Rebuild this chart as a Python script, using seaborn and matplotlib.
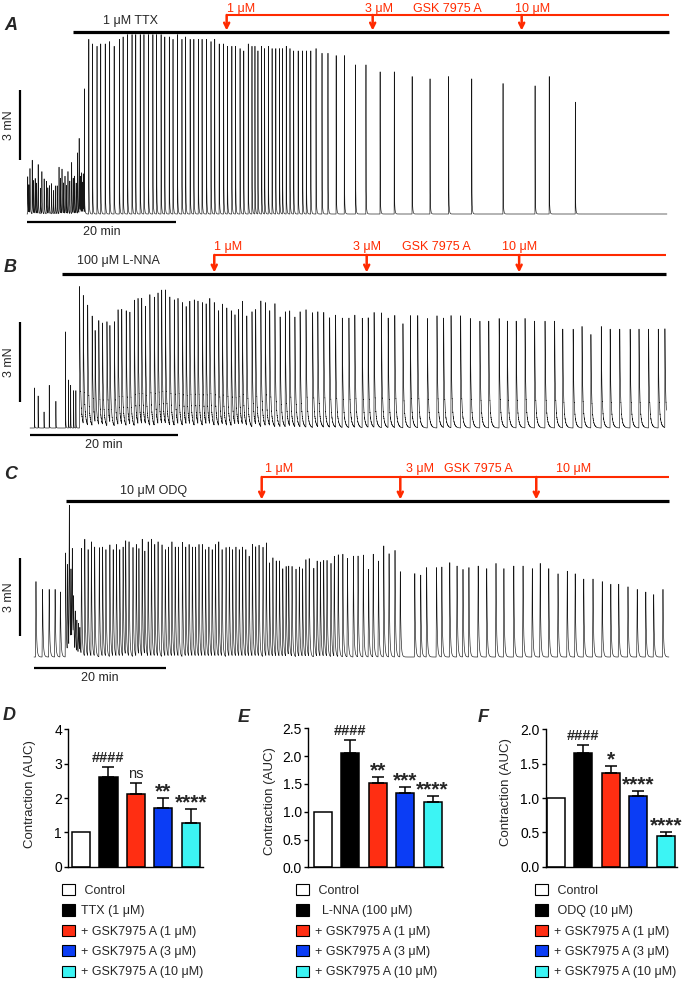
import numpy as np
import matplotlib
matplotlib.use("Agg")
import matplotlib.pyplot as plt
from matplotlib.patches import Patch
import seaborn as sns

# ---------------- recordings (time in min, contraction peak in mN) ----------------
# A: 1 uM TTX
a_pre_times = [0.1, 0.25, 0.4, 0.7, 0.9, 1.1, 1.3, 1.5, 1.8, 2.0, 2.3, 2.6, 2.8, 3.0, 3.3, 3.55, 3.8, 4.05,
               4.3, 4.5, 4.7, 4.9, 5.1, 5.3, 5.5, 5.75, 6.0, 6.2, 6.4, 6.6, 6.8, 7.0, 7.15, 7.3, 7.45, 7.55]
a_pre_peaks = [1.6, 1.2, 1.9, 2.3, 1.4, 1.5, 1.3, 2.1, 1.1, 1.8, 1.5, 1.4, 1.1, 1.2, 1.3, 1.0, 1.2, 1.2,
               2.0, 1.5, 1.9, 1.3, 1.6, 1.2, 1.8, 1.4, 2.2, 1.5, 1.6, 1.3, 2.6, 3.2, 1.5, 1.7, 1.3, 1.6]
a_times = [7.7, 8.3, 8.8, 9.4, 9.9, 10.5, 11.1, 11.7, 12.4, 12.9, 13.5, 14.1, 14.6, 15.2, 15.7, 16.3, 16.9,
           17.4, 18.0, 18.5, 19.1, 19.6, 20.2, 20.8, 21.3, 21.9, 22.4, 23.0, 23.5, 24.1, 24.7, 25.2, 25.8,
           26.4, 26.9, 27.5, 28.0, 28.6, 29.1, 29.7, 30.2, 30.6, 31.0, 31.5, 31.9, 32.4, 32.9, 33.4, 33.9,
           34.3, 34.8, 35.3, 35.8, 36.4, 37.0, 37.5, 38.1, 38.8, 39.6, 40.4, 41.5, 42.6, 44.1, 45.5, 47.4,
           49.3, 51.7, 54.1, 56.6, 59.7, 63.9, 68.2, 70.1, 73.6]
a_peaks = [5.3, 7.5, 7.3, 7.2, 7.3, 7.3, 7.4, 7.2, 7.5, 7.6, 7.7, 7.7, 7.7, 7.7, 7.7, 7.7, 7.7,
           7.7, 7.7, 7.6, 7.6, 7.5, 7.7, 7.5, 7.6, 7.5, 7.5, 7.5, 7.5, 7.5, 7.4, 7.5, 7.3,
           7.3, 7.2, 7.2, 7.2, 7.1, 7.0, 7.3, 7.2, 7.2, 7.0, 7.2, 7.1, 7.2, 7.1, 7.1, 7.1,
           7.1, 7.2, 7.1, 7.0, 7.0, 7.0, 7.0, 7.0, 7.1, 6.9, 6.9, 6.8, 6.8, 6.4, 6.4, 6.1,
           6.1, 5.9, 5.8, 5.9, 5.8, 5.6, 5.5, 5.9, 4.8]
a_drug = (6.2, 86.2)
a_gsk_times = [26.8, 46.4, 66.4]
a_end = 85.9

# B: 100 uM L-NNA
b_pre_times = [0.6, 1.1, 1.9, 2.6, 3.5, 4.8, 5.2, 5.5, 5.9, 6.2]
b_pre_peaks = [1.5, 1.2, 0.6, 1.6, 1.0, 3.6, 1.8, 1.6, 1.4, 1.4]
b_times = [6.7, 7.2, 7.8, 8.4, 8.8, 9.3, 9.8, 10.4, 10.8, 11.4, 11.9, 12.4, 13.0, 13.5, 14.1, 14.6, 15.1,
           15.6, 16.2, 16.8, 17.3, 17.8, 18.3, 18.9, 19.5, 20.0, 20.6, 21.1, 21.6, 22.2, 22.7, 23.3, 23.8,
           24.3, 24.9, 25.5, 26.0, 26.6, 27.2, 27.7, 28.2, 28.7, 29.3, 30.0, 30.5, 31.2, 31.8, 32.4, 33.1,
           33.8, 34.5, 35.1, 35.8, 36.5, 37.3, 38.2, 38.9, 39.7, 40.5, 41.3, 42.2, 43.1, 43.9, 44.9, 45.7,
           46.5, 47.5, 48.4, 49.3, 50.4, 51.4, 52.4, 53.7, 55.0, 55.9, 56.9, 58.2, 59.5, 60.8, 62.0, 63.4,
           64.5, 65.7, 66.9, 68.2, 69.6, 70.9, 72.0, 73.4, 74.6, 75.8, 77.2, 78.4, 79.7, 81.1, 82.3, 83.6,
           84.9, 85.8]
b_peaks = [5.3, 4.8, 4.5, 4.1, 3.4, 3.9, 3.8, 3.9, 3.6, 3.9, 4.3, 4.3, 4.3, 4.2, 4.7, 4.7, 4.7,
           4.4, 4.9, 4.8, 4.9, 5.0, 5.0, 4.8, 4.7, 4.7, 4.6, 4.4, 4.6, 4.7, 4.6, 4.6, 4.5,
           4.7, 4.6, 4.3, 4.5, 4.4, 4.3, 4.1, 4.3, 4.6, 4.1, 4.3, 4.3, 4.7, 4.6, 4.3, 4.6,
           4.1, 4.3, 4.3, 4.1, 4.3, 4.4, 4.3, 4.3, 4.3, 4.1, 4.2, 4.1, 4.1, 4.2, 4.1, 4.1,
           4.3, 4.3, 4.1, 4.2, 3.9, 4.2, 4.2, 4.1, 4.2, 4.1, 4.2, 4.2, 4.1, 4.0, 4.0, 4.1,
           4.0, 4.0, 4.1, 4.0, 4.0, 4.0, 3.7, 3.7, 3.8, 3.5, 3.8, 3.7, 3.7, 3.7, 3.7, 3.7,
           3.7, 3.7]
b_drug = (4.3, 85.9)
b_gsk_times = [24.9, 45.5, 66.1]
b_end = 86.0

# C: 10 uM ODQ
c_pre_times = [0.3, 1.3, 2.3, 3.2, 4.0, 4.8, 5.1, 5.35, 5.6, 5.8, 6.0, 6.25, 6.5, 6.75, 6.95]
c_pre_peaks = [2.9, 2.6, 2.6, 2.6, 2.5, 4.0, 3.4, 5.6, 3.0, 3.8, 1.9, 1.6, 1.3, 1.2, 1.0]
c_times = [7.2, 7.7, 8.2, 8.7, 9.2, 9.9, 10.4, 10.9, 11.5, 12.0, 12.5, 13.0, 13.5, 13.9, 14.4, 15.0, 15.5,
           15.9, 16.4, 16.8, 17.3, 17.8, 18.3, 18.8, 19.4, 19.9, 20.4, 20.9, 21.4, 21.9, 22.5, 23.0, 23.5,
           24.0, 24.5, 25.0, 25.5, 26.0, 26.5, 27.0, 27.5, 28.0, 28.5, 29.1, 29.6, 30.1, 30.6, 31.1, 31.6,
           32.1, 32.6, 33.1, 33.6, 34.1, 34.7, 35.2, 35.7, 36.2, 36.7, 37.2, 37.7, 38.2, 38.6, 39.1, 39.7,
           40.2, 40.7, 41.2, 41.7, 42.4, 42.9, 43.4, 43.9, 44.4, 45.0, 45.5, 46.1, 46.8, 47.5, 48.4, 49.1,
           49.9, 50.7, 51.4, 52.2, 53.0, 53.8, 54.7, 55.5, 57.7, 58.6, 59.5, 61.0, 61.8, 63.0, 64.1, 65.0,
           65.9, 67.3, 68.6, 70.0, 71.2, 72.7, 74.1, 75.5, 76.7, 78.0, 79.4, 80.8, 82.0, 83.3, 84.7, 86.1,
           87.4, 88.6, 90.0, 91.4, 92.7, 93.9, 95.3]
c_peaks = [4.1, 4.5, 4.1, 4.4, 4.2, 4.2, 4.2, 4.1, 4.3, 4.1, 4.3, 4.1, 4.2, 4.4, 4.4, 4.2, 4.3,
           4.1, 4.5, 4.0, 4.4, 4.5, 4.3, 4.4, 4.3, 4.1, 4.2, 4.4, 4.2, 4.2, 4.4, 4.2, 4.3,
           4.2, 4.2, 4.3, 4.3, 4.1, 4.2, 4.1, 4.3, 4.4, 4.1, 4.2, 4.2, 4.1, 4.2, 4.1, 4.2,
           4.1, 3.85, 4.31, 4.21, 4.27, 4.21, 4.36, 3.59, 3.79, 3.67, 3.67, 3.37, 3.46, 3.44, 3.46, 3.37,
           3.44, 3.37, 3.72, 3.76, 3.41, 3.67, 3.63, 3.69, 3.69, 3.59, 3.85, 3.92, 3.95, 3.79, 3.88, 3.88,
           3.92, 3.37, 3.95, 3.69, 4.27, 3.97, 4.1, 3.28, 3.21, 3.15, 3.44, 3.44, 3.46, 3.63, 3.5, 3.37,
           3.44, 3.5, 3.4, 3.6, 3.4, 3.5, 3.5, 3.4, 3.6, 3.4, 3.2, 3.3, 3.2, 3.0, 3.0, 2.9,
           2.8, 2.8, 2.7, 2.6, 2.5, 2.4, 2.6]
c_drug = (4.85, 96.2)
c_gsk_times = [34.5, 55.5, 76.1]
c_end = 96.2

# ---------------- summary bars (AUC, mean and SEM) ----------------
d_labels = [" Control", "TTX (1 μM)", "+ GSK7975 A (1 μM)", "+ GSK7975 A (3 μM)", "+ GSK7975 A (10 μM)"]
d_mean = [1.0, 2.62, 2.12, 1.70, 1.28]
d_sem = [0.0, 0.29, 0.31, 0.29, 0.39]
d_sig = ["", "####", "ns", "**", "****"]

e_labels = [" Control", "  L-NNA (100 μM)", "+ GSK7975 A (1 μM)", "+ GSK7975 A (3 μM)", "+ GSK7975 A (10 μM)"]
e_mean = [1.0, 2.06, 1.51, 1.34, 1.18]
e_sem = [0.0, 0.23, 0.12, 0.11, 0.10]
e_sig = ["", "####", "**", "***", "****"]

f_labels = [" Control", " ODQ (10 μM)", "+ GSK7975 A (1 μM)", "+ GSK7975 A (3 μM)", "+ GSK7975 A (10 μM)"]
f_mean = [1.0, 1.66, 1.36, 1.03, 0.45]
f_sem = [0.0, 0.11, 0.10, 0.07, 0.06]
f_sig = ["", "####", "*", "****", "****"]

bar_colors = ["white", "black", "#ff2e12", "#0b3df5", "#3cf4f4"]
RED = "#ff2a00"

sns.set_style("ticks")
plt.rcParams["font.family"] = ["Liberation Sans", "DejaVu Sans"]

W, H = 685, 981
fig = plt.figure(figsize=(W / 100, H / 100), dpi=100)

# pixel layout of each trace panel
layouts = {
    "A": dict(x0=27, ppm=7.45, base=214, ppn=23.3, band=(0, 240), black=32, red=15, red_y=9, drug_y=21,
              drug_x=103, red_x=[227, 365, 413, 515], scale_bot=160, time_y=222, letter_y=25),
    "B": dict(x0=30, ppm=7.4, base=428, ppn=26.7, band=(240, 455), black=274, red=255, red_y=247, drug_y=261,
              drug_x=77, red_x=[214, 353, 402, 502], scale_bot=402, time_y=435, letter_y=267),
    "C": dict(x0=34, ppm=6.6, base=657, ppn=26.0, band=(455, 690), black=501, red=477, red_y=469, drug_y=491,
              drug_x=120, red_x=[265, 406, 444, 556], scale_bot=636, time_y=668, letter_y=474),
}

# spike shapes: rise, fast tau, slow fraction, slow tau, ripple
shape_a = (0.02, 0.012, 0.17, 0.06, 0.0)
shape_a_pre = (0.03, 0.025, 0.3, 0.07, 0.0)
shape_b = (0.02, 0.07, 0.4, 0.2, 0.025)
shape_b_pre = (0.01, 0.01, 0.1, 0.05, 0.0)
shape_c = (0.08, 0.06, 0.45, 0.12, 0.0)


def build_trace(t_end, groups, dt=0.002):
    t = np.arange(0, t_end, dt)
    y = np.zeros_like(t)
    for times, peaks, (rise, tau1, frac2, tau2, ripple) in groups:
        for ti, h in zip(times, peaks):
            m = (t >= ti - rise) & (t < ti + 8 * tau2)
            s = t[m] - ti
            v = np.empty_like(s)
            up = s < 0
            v[up] = h * (1 + s[up] / rise)
            d = s[~up]
            v[~up] = h * ((1 - frac2) * np.exp(-d / tau1) + frac2 * np.exp(-d / tau2))
            if ripple:
                v[~up] += ripple * h * np.exp(-d / tau2) * np.sin(2 * np.pi * d / 0.03)
            y[m] += v
    return t, y


def xd(L, x):
    return (x - L["x0"]) / L["ppm"]


def yd(L, y):
    return (L["base"] - y) / L["ppn"]


def trace_panel(key, t, y, drug, gsk, drug_label):
    L = layouts[key]
    top, bot = L["band"]
    ax = fig.add_axes([0, 1 - bot / H, 1, (bot - top) / H])
    sns.lineplot(x=t, y=y, ax=ax, color="#151515", linewidth=0.45, estimator=None, sort=False, errorbar=None)
    ax.set_xlim(xd(L, 0), xd(L, W))
    ax.set_ylim(yd(L, bot), yd(L, top))
    ax.axis("off")

    # drug application bars
    yb, yr = yd(L, L["black"]), yd(L, L["red"])
    ax.plot(drug, [yb, yb], color="black", lw=2.3, solid_capstyle="butt")
    ax.plot([gsk[0], drug[1]], [yr, yr], color=RED, lw=1.5, solid_capstyle="butt")
    for g in gsk:
        ax.annotate("", xy=(g, yd(L, L["black"] - 1.5)), xytext=(g, yr),
                    arrowprops=dict(arrowstyle="->", color=RED, lw=1.8, mutation_scale=9,
                                    shrinkA=0, shrinkB=0))
    ax.text(xd(L, L["drug_x"]), yd(L, L["drug_y"]), drug_label, fontsize=9, ha="left", va="center")
    for lbl, x in zip(["1 μM", "3 μM", "GSK 7975 A", "10 μM"], L["red_x"]):
        ax.text(xd(L, x), yd(L, L["red_y"]), lbl, color=RED, fontsize=9, ha="left", va="center")

    # scale bars
    sx = xd(L, 20)
    y0 = yd(L, L["scale_bot"])
    ax.plot([sx, sx], [y0, y0 + 3], color="black", lw=1.6, solid_capstyle="butt")
    ax.text(xd(L, 9), y0 + 1.5, "3 mN", rotation=90, fontsize=9, ha="center", va="center")
    ty = yd(L, L["time_y"])
    ax.plot([0, 20], [ty, ty], color="black", lw=1.6, solid_capstyle="butt")
    ax.text(10, yd(L, L["time_y"] + 10), "20 min", fontsize=9, ha="center", va="center")
    fig.text(4 / W, 1 - L["letter_y"] / H, key, fontsize=13,
             fontweight="bold", fontstyle="italic", ha="left", va="center")
    return ax


ta, ya = build_trace(a_end, [(a_pre_times, a_pre_peaks, shape_a_pre), (a_times, a_peaks, shape_a)])
tb, yb_ = build_trace(b_end, [(b_pre_times, b_pre_peaks, shape_b_pre), (b_times, b_peaks, shape_b)])
tc, yc = build_trace(c_end, [(c_pre_times, c_pre_peaks, shape_c), (c_times, c_peaks, shape_c)])

trace_panel("A", ta, ya, a_drug, a_gsk_times, "1 μM TTX")
trace_panel("B", tb, yb_, b_drug, b_gsk_times, "100 μM L-NNA")
trace_panel("C", tc, yc, c_drug, c_gsk_times, "10 μM ODQ")

# ---------------- bar panels ----------------
bar_layout = {
    "D": dict(left=68.3, right=203, bottom=866.7, top=729.3, xlim=(-0.46, 4.44), ylim=4.0,
              ticks=[0, 1, 2, 3, 4], fmt="{:.0f}", letter=(3, 715), leg=(62, 884), ylab=(-0.24, 0.53)),
    "E": dict(left=308.3, right=443.3, bottom=867.3, top=728.3, xlim=(-0.52, 4.39), ylim=2.5,
              ticks=[0, 0.5, 1, 1.5, 2, 2.5], fmt="{:.1f}", letter=(238, 717), leg=(296, 884), ylab=(-0.24, 0.48)),
    "F": dict(left=545.7, right=676.7, bottom=866.7, top=729.3, xlim=(-0.37, 4.4), ylim=2.0,
              ticks=[0, 0.5, 1, 1.5, 2], fmt="{:.1f}", letter=(478, 718), leg=(535, 884), ylab=(-0.26, 0.54)),
}


def bar_panel(key, labels, mean, sem, sig):
    B = bar_layout[key]
    ax = fig.add_axes([B["left"] / W, 1 - B["bottom"] / H, (B["right"] - B["left"]) / W,
                       (B["bottom"] - B["top"]) / H])
    sns.barplot(x=labels, y=mean, hue=labels, palette=dict(zip(labels, bar_colors)), ax=ax, saturation=1,
                width=0.66, edgecolor="black", linewidth=1.1, legend=False, dodge=False)
    idx = list(range(1, len(labels)))
    ax.errorbar(idx, mean[1:], yerr=[[0] * len(idx), sem[1:]], fmt="none", ecolor="black",
                elinewidth=1.1, capsize=4, capthick=1.1, zorder=1)
    for i in idx:
        top = mean[i] + sem[i]
        if sig[i].startswith("*"):
            ax.annotate(sig[i], xy=(i, top), xytext=(0, 0.5), textcoords="offset points", ha="center",
                        va="baseline", fontsize=15, fontweight="bold", annotation_clip=False)
        else:
            weight = "bold" if sig[i].startswith("#") else "normal"
            ax.annotate(sig[i], xy=(i, top), xytext=(0, 3.6), textcoords="offset points", ha="center",
                        va="baseline", fontsize=10.5, fontweight=weight, annotation_clip=False)
    ax.set_xlim(*B["xlim"])
    ax.set_ylim(0, B["ylim"])
    ax.set_xticks([])
    ax.set_yticks(B["ticks"])
    ax.set_yticklabels([B["fmt"].format(v) for v in B["ticks"]])
    ax.tick_params(axis="y", length=3, width=1.0, labelsize=10, pad=1.5, colors="black")
    for s in ["left", "bottom"]:
        ax.spines[s].set_linewidth(1.0)
        ax.spines[s].set_color("black")
    sns.despine(ax=ax)
    ax.set_ylabel("Contraction (AUC)", fontsize=9.5)
    ax.yaxis.set_label_coords(*B["ylab"])
    fig.text(B["letter"][0] / W, 1 - B["letter"][1] / H, key, fontsize=13, fontweight="bold",
             fontstyle="italic", ha="left", va="center")
    handles = [Patch(facecolor=c, edgecolor="black", linewidth=0.8, label=l) for c, l in zip(bar_colors, labels)]
    ax.legend(handles=handles, loc="upper left", bbox_to_anchor=(B["leg"][0] / W, 1 - B["leg"][1] / H),
              bbox_transform=fig.transFigure, frameon=False, fontsize=9, handlelength=1.0,
              handleheight=1.0, handletextpad=0.55, labelspacing=0.6, borderpad=0, borderaxespad=0)
    return ax


bar_panel("D", d_labels, d_mean, d_sem, d_sig)
bar_panel("E", e_labels, e_mean, e_sem, e_sig)
bar_panel("F", f_labels, f_mean, f_sem, f_sig)

fig.savefig("out.png", dpi=100)
